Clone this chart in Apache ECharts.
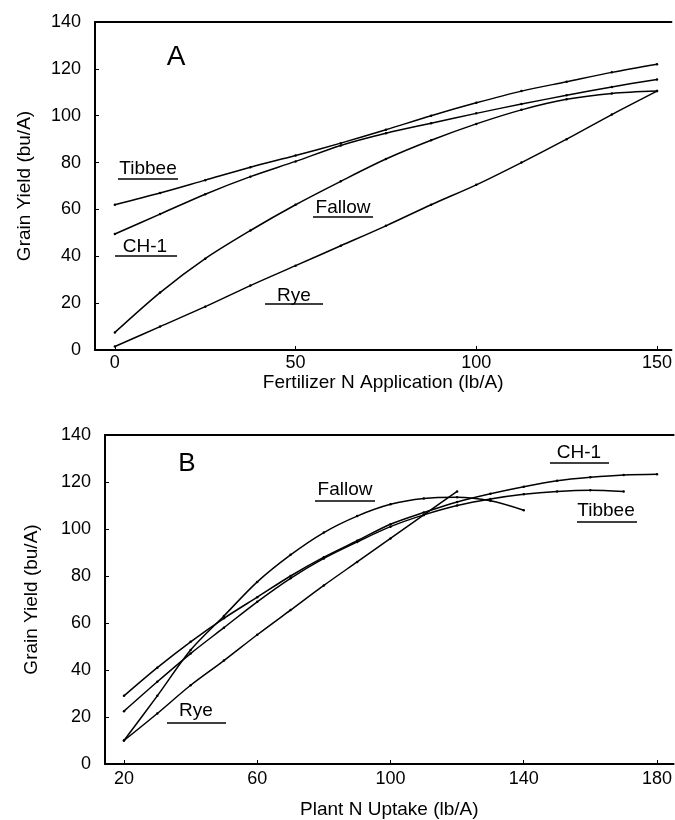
<!DOCTYPE html>
<html>
<head>
<meta charset="utf-8">
<script src="https://cdn.jsdelivr.net/npm/echarts@6/dist/echarts.min.js"></script>
<style>
html,body{margin:0;padding:0;background:#fff;}
#chart{width:675px;height:820px;}
</style>
</head>
<body>
<div id="chart"></div>
<script>
// Panel A: Fertilizer N application (lb/A)
const fertN    = [0, 12.5, 25, 37.5, 50, 62.5, 75, 87.5, 100, 112.5, 125, 137.5, 150];
const tibbeeA  = [62, 67, 72.5, 78, 83, 88.3, 94, 100, 105.5, 110.5, 114.5, 118.5, 122];
const ch1A     = [49.5, 58, 66.5, 74, 80.5, 87.3, 92.5, 96.8, 101, 105, 108.7, 112.3, 115.5];
const fallowA  = [7.5, 24.5, 39, 51, 62, 72, 81.5, 89.5, 96.5, 102.5, 107, 109.5, 110.5];
const ryeA     = [1.5, 10, 18.5, 27.5, 36, 44.5, 53, 62, 70.5, 80, 90, 100.5, 110.5];

// Panel B: Plant N uptake (lb/A)
const uptakeCH1    = [20, 30, 40, 50, 60, 70, 80, 90, 100, 110, 120, 130, 140, 150, 160, 170, 180];
const ch1B         = [29, 41, 52, 62, 71, 80, 88, 95, 102, 107, 111.5, 115, 118, 120.5, 122, 123, 123.3];
const uptakeTibbee = [20, 30, 40, 50, 60, 70, 80, 90, 100, 110, 120, 130, 140, 150, 160, 170];
const tibbeeB      = [22.5, 35, 47, 58, 69, 79, 87.5, 94.5, 101, 106, 110, 112.8, 114.8, 116, 116.5, 116];
const uptakeFallow = [20, 30, 40, 50, 60, 70, 80, 90, 100, 110, 120, 130, 140];
const fallowB      = [10, 29, 48.5, 63, 77.5, 89, 98.5, 105.5, 110.5, 113, 113.5, 112, 108];
const uptakeRye    = [20, 30, 40, 50, 60, 70, 80, 90, 100, 110, 120];
const ryeB         = [10, 21.5, 33.5, 44, 55, 65.5, 76, 86, 96, 106, 116];

// Tick labels
const xTicksA = [0, 50, 100, 150];
const xTicksB = [20, 60, 100, 140, 180];

const FONT = '"Liberation Sans", Arial, Helvetica, sans-serif';
const zip = (xs, ys) => xs.map((x, i) => [x, ys[i]]);

const chart = echarts.init(document.getElementById('chart'), null, {renderer: 'canvas'});

function lineSeries(name, xi, yi, data) {
  return {
    name: name, type: 'line', xAxisIndex: xi, yAxisIndex: yi,
    data: data, smooth: 0.3,
    symbol: 'circle', symbolSize: 2.5, showSymbol: true,
    itemStyle: {color: '#000'},
    lineStyle: {color: '#000', width: 1.5},
    silent: true
  };
}

function bottomAxis(grid, min, max, ticks, name, gap, margin) {
  return {
    gridIndex: grid, type: 'value', position: 'bottom', min: min, max: max,
    axisLine: {show: true, onZero: false, lineStyle: {color: '#000', width: 2}},
    axisTick: {show: true, inside: true, length: 4, customValues: ticks, lineStyle: {color: '#000'}},
    axisLabel: {customValues: ticks, color: '#000', fontSize: 18, fontFamily: FONT, margin: margin},
    splitLine: {show: false},
    name: name, nameLocation: 'middle', nameGap: gap,
    nameTextStyle: {color: '#000', fontSize: 19, fontFamily: FONT}
  };
}
function topAxis(grid, min, max) {
  return {
    gridIndex: grid, type: 'value', position: 'top', min: min, max: max,
    axisLine: {show: true, onZero: false, lineStyle: {color: '#000', width: 2}},
    axisTick: {show: false}, axisLabel: {show: false}, splitLine: {show: false}
  };
}
function leftAxis(grid, gap) {
  return {
    gridIndex: grid, type: 'value', min: 0, max: 140, interval: 20,
    axisLine: {show: true, onZero: false, lineStyle: {color: '#000', width: 2}},
    axisTick: {show: true, inside: true, length: 4, lineStyle: {color: '#000'}},
    axisLabel: {color: '#000', fontSize: 18, fontFamily: FONT, margin: 14},
    splitLine: {show: false},
    name: 'Grain Yield (bu/A)', nameLocation: 'middle', nameGap: gap,
    nameTextStyle: {color: '#000', fontSize: 19, fontFamily: FONT}
  };
}

function label(text, cx, cy, size) {
  return {type: 'text', x: cx, y: cy, silent: true,
    style: {text: text, fill: '#000', font: size + 'px ' + FONT, align: 'center', verticalAlign: 'middle'}};
}
function uline(x1, x2, y) {
  return {type: 'line', silent: true, shape: {x1: x1, y1: y, x2: x2, y2: y},
    style: {stroke: '#000', lineWidth: 1.5}};
}

const option = {
  animation: false,
  backgroundColor: '#fff',
  grid: [
    {left: 95, right: 0, top: 22, height: 328},
    {left: 105, right: 0, top: 435, height: 329}
  ],
  xAxis: [
    bottomAxis(0, -5.5, 154, xTicksA, 'Fertilizer N Application (lb/A)', 23, 4),
    topAxis(0, -5.5, 154),
    bottomAxis(1, 14.3, 185, xTicksB, 'Plant N Uptake (lb/A)', 36, 6),
    topAxis(1, 14.3, 185)
  ],
  yAxis: [leftAxis(0, 61), leftAxis(1, 64)],
  series: [
    lineSeries('Tibbee A', 0, 0, zip(fertN, tibbeeA)),
    lineSeries('CH-1 A', 0, 0, zip(fertN, ch1A)),
    lineSeries('Fallow A', 0, 0, zip(fertN, fallowA)),
    lineSeries('Rye A', 0, 0, zip(fertN, ryeA)),
    lineSeries('CH-1 B', 2, 1, zip(uptakeCH1, ch1B)),
    lineSeries('Tibbee B', 2, 1, zip(uptakeTibbee, tibbeeB)),
    lineSeries('Fallow B', 2, 1, zip(uptakeFallow, fallowB)),
    lineSeries('Rye B', 2, 1, zip(uptakeRye, ryeB))
  ],
  graphic: [
    label('A', 176, 57, 28),
    label('Tibbee', 148, 169, 19), uline(118, 178, 179),
    label('CH-1', 145, 247, 19), uline(115, 177, 256),
    label('Fallow', 343, 208, 19), uline(313, 373, 217),
    label('Rye', 294, 296, 19), uline(265, 323, 304),
    label('B', 187, 464, 26),
    label('Fallow', 345, 490, 19), uline(315, 375, 501),
    label('CH-1', 579, 453, 19), uline(550, 609, 463),
    label('Tibbee', 606, 511, 19), uline(577, 637, 522),
    label('Rye', 196, 711, 19), uline(167, 226, 723)
  ]
};
chart.setOption(option);
</script>
</body>
</html>
